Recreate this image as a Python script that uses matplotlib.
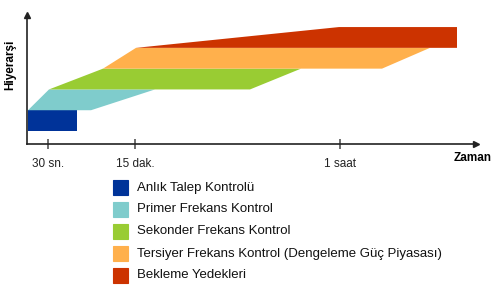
import matplotlib
matplotlib.use("Agg")
import matplotlib.pyplot as plt
from matplotlib.patches import Polygon, Rectangle

plt.rcParams['font.family'] = ['Liberation Sans', 'DejaVu Sans']

# Reserve bands: each one is a trapezoid between two hierarchy levels
labels = ['Anlık Talep Kontrolü', 'Primer Frekans Kontrol', 'Sekonder Frekans Kontrol',
          'Tersiyer Frekans Kontrol (Dengeleme Güç Piyasası)', 'Bekleme Yedekleri']
colors = ['#003399', '#7fcccc', '#99cc33', '#ffb04c', '#cc3300']
level_bottom = [0, 1, 2, 3, 4]
level_top = [1, 2, 3, 4, 5]
bottom_left = [1, 1, 22, 76, 109]
top_left = [1, 22, 76, 109, 312]
top_right = [50, 128, 274, 403, 430]
bottom_right = [50, 64, 223, 355, 430]

tick_pos = [21, 108, 313]
tick_labels = ['30 sn.', '15 dak.', '1 saat']

W, H = 500, 288
fig = plt.figure(figsize=(W / 100, H / 100), dpi=100)
ax = fig.add_axes([27 / W, 1 - 143.5 / H, 449 / W, 128.5 / H])
ax.set_xlim(0, 449)
ax.set_ylim(-0.6, 5.58)

for i in range(len(labels)):
    pts = [(bottom_left[i], level_bottom[i]), (top_left[i], level_top[i]),
           (top_right[i], level_top[i]), (bottom_right[i], level_bottom[i])]
    ax.add_patch(Polygon(pts, closed=True, facecolor=colors[i], edgecolor='none'))

for s in ['top', 'right']:
    ax.spines[s].set_visible(False)
for s in ['left', 'bottom']:
    ax.spines[s].set_linewidth(1.2)
    ax.spines[s].set_color('#222222')

# arrow heads on the axes
ax.plot(1, 0, '>', color='#222222', ms=4, transform=ax.transAxes, clip_on=False)
ax.plot(0, 1, '^', color='#222222', ms=4, transform=ax.transAxes, clip_on=False)

ax.set_yticks([])
ax.set_xticks(tick_pos)
ax.set_xticklabels(tick_labels, fontsize=8.5, color='#222222')
ax.tick_params(axis='x', direction='inout', length=7, width=1.2, color='#555555', pad=7)

fig.text(10 / W, 1 - 65 / H, 'Hiyerarşi', rotation=90, ha='center', va='center',
         fontsize=8.5, fontweight='bold')
fig.text(473 / W, 1 - 158 / H, 'Zaman', ha='center', va='center',
         fontsize=8.5, fontweight='bold')

# legend drawn by hand to keep the square boxes
for i, (lab, col) in enumerate(zip(labels, colors)):
    y = 180 + 22 * i
    fig.patches.append(Rectangle((113 / W, 1 - (y + 15) / H), 15 / W, 15 / H,
                                 transform=fig.transFigure, facecolor=col,
                                 edgecolor=col, lw=0.8))
    fig.text(137 / W, 1 - (y + 7.5) / H, lab, ha='left', va='center', fontsize=9.5,
             color='#111111')

fig.savefig('out.png', dpi=100)
